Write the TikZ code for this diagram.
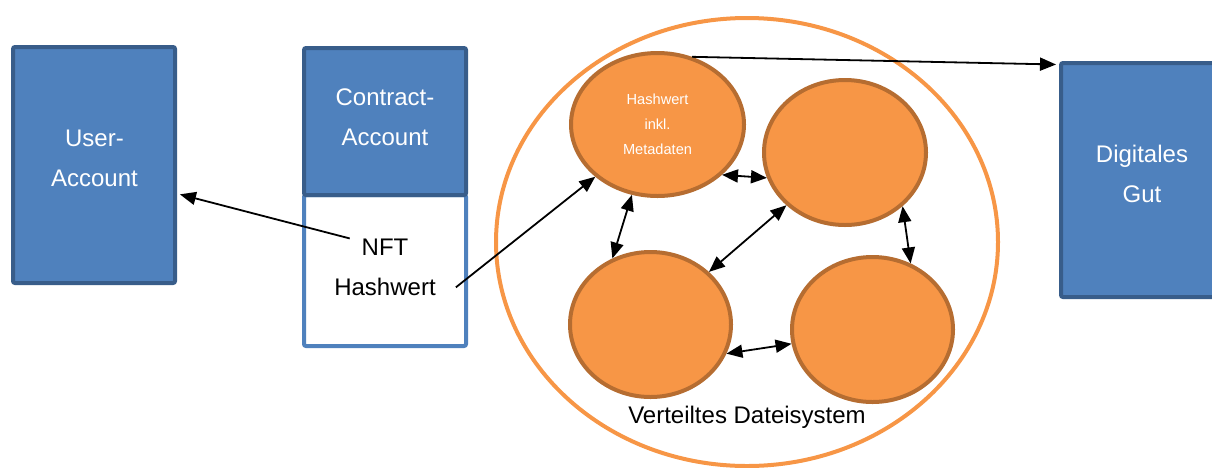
\documentclass[tikz,border=0pt]{standalone}
\usepackage{fontspec}
\setmainfont{Liberation Sans}
\usetikzlibrary{shapes.geometric,arrows.meta}
\definecolor{boxfill}{HTML}{4F81BD}
\definecolor{boxedge}{HTML}{385D8A}
\definecolor{peerfill}{HTML}{F79646}
\definecolor{peeredge}{HTML}{B66D31}

\begin{document}
\begin{tikzpicture}[x=1pt,y=-1pt,
  account/.style={draw=boxedge, fill=boxfill, line width=4pt, rounded corners=2pt, inner sep=0pt},
  bigtext/.style={font=\fontsize{24}{40}\selectfont, align=center, inner sep=0pt},
  peer/.style={ellipse, draw=peeredge, fill=peerfill, line width=4pt, inner sep=0pt},
  link/.style={line width=1.8pt, -{Triangle[length=16pt,width=13pt]}},
  duplex/.style={line width=1.8pt, {Triangle[length=16pt,width=13pt]}-{Triangle[length=16pt,width=13pt]}},
]
\useasboundingbox (0,0) rectangle (1212,467);

% user account
\node[account, minimum width=162pt, minimum height=236pt] (ua) at (94,165) {};
\node[bigtext, text=white] (uat) at (94.5,158.5) {User-\\Account};

% contract account with the stored token
\node[draw=boxfill, fill=white, line width=4pt, rounded corners=2pt, inner sep=0pt,
      minimum width=162pt, minimum height=151pt] (cb) at (385,270.5) {};
\node[account, minimum width=162pt, minimum height=147pt] (ca) at (385,121.5) {};
\node[bigtext, text=white] (cat) at (385,117.5) {Contract-\\Account};
\node[bigtext, inner xsep=20pt] (nft) at (385,267) {NFT\\Hashwert};

% digital good
\node[account, minimum width=170pt, minimum height=234pt] (dg) at (1146,180) {};
\node[bigtext, text=white] (dgt) at (1142,174) {Digitales\\Gut};

% distributed file system
\node[ellipse, draw=peerfill, line width=4pt, inner sep=0pt,
      minimum width=502pt, minimum height=448pt] (dfs) at (747,242) {};
\node[font=\fontsize{24}{28}\selectfont, inner sep=0pt] (dfst) at (747,417) {Verteiltes Dateisystem};

\node[peer, minimum width=173pt, minimum height=143pt, text=white,
      font=\fontsize{14.6}{25}\selectfont, align=center] (e1) at (657.5,124.5) {Hashwert\\inkl.\\Metadaten};
\node[peer, minimum width=162pt, minimum height=145pt] (e2) at (845,152.5) {};
\node[peer, minimum width=161pt, minimum height=145pt] (e3) at (650.5,324.5) {};
\node[peer, minimum width=161pt, minimum height=145pt] (e4) at (872.5,329.5) {};

% connectors
\draw[link, shorten >=3pt] (nft.141) -- (ua.-19);
\draw[link] (nft.-16) -- (e1.220);
\draw[link, shorten >=3pt] (e1.63) -- (dg.127.4);
\draw[duplex] (e1.-38) -- (e2.198);
\draw[duplex] (e1.250) -- (e3.120);
\draw[duplex] (e2.222) -- (e3.42);
\draw[duplex] (e2.-43) -- (e4.60);
\draw[duplex] (e3.-21.5) -- (e4.190.6);
\end{tikzpicture}
\end{document}
